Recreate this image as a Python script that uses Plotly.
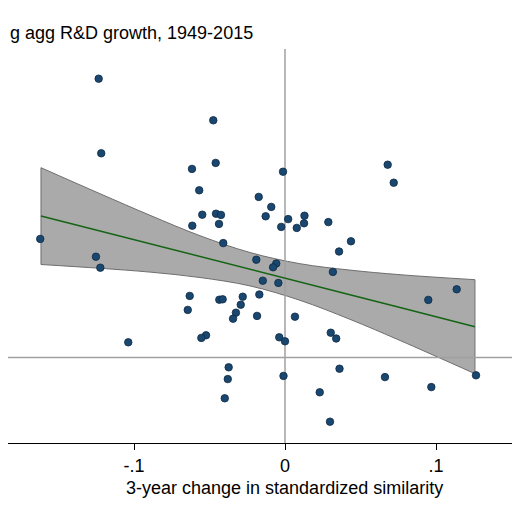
import plotly.graph_objects as go

# 3-year change in standardized similarity vs log agg R&D growth
sim_change = [
    -0.1234, -0.1217, -0.1621, -0.1252, -0.1223, -0.1038, -0.0631, -0.0644,
    -0.0475, -0.0459, -0.0616, -0.0568, -0.0013, -0.0174, -0.0091, -0.0548,
    -0.0457, -0.0424, -0.0128, -0.0614, -0.0437, 0.0021, 0.0129, -0.0025,
    0.0078, 0.0126, 0.0287, 0.0680, 0.0720, -0.0409, 0.0437, 0.0358,
    -0.0190, -0.0058, -0.0079, 0.0317, -0.0147, -0.0044, -0.0435, -0.0413,
    -0.0280, -0.0170, -0.0293, -0.0325, -0.0344, -0.0185, 0.0066, -0.0523,
    -0.0554, -0.0038, 0.0000, 0.0303, 0.0339, 0.1137, 0.0949, -0.0373,
    -0.0379, -0.0399, -0.0010, 0.0361, 0.0230, 0.0298, 0.0662, 0.0969,
    0.1265,
]
rd_growth = [
    0.1394, 0.1021, 0.0593, 0.0504, 0.0449, 0.0076, 0.0308, 0.0238,
    0.1186, 0.0973, 0.0943, 0.0836, 0.0929, 0.0803, 0.0753, 0.0714,
    0.0719, 0.0713, 0.0706, 0.0659, 0.0668, 0.0692, 0.0709, 0.0653,
    0.0648, 0.0671, 0.0677, 0.0964, 0.0874, 0.0572, 0.0581, 0.0530,
    0.0489, 0.0470, 0.0451, 0.0428, 0.0384, 0.0373, 0.0289, 0.0291,
    0.0304, 0.0315, 0.0264, 0.0224, 0.0194, 0.0208, 0.0204, 0.0111,
    0.0098, 0.0101, 0.0081, 0.0124, 0.0095, 0.0341, 0.0288, -0.0049,
    -0.0108, -0.0204, -0.0092, -0.0056, -0.0174, -0.0321, -0.0098, -0.0148,
    -0.0089,
]

# linear fit with 95% CI
fit_x = [-0.1616, -0.1225, -0.0894, -0.0563, -0.0232, 0.0099, 0.0430, 0.0762, 0.1258]
fit_y = [0.0708, 0.0632, 0.0569, 0.0505, 0.0441, 0.0377, 0.0314, 0.0250, 0.0154]
ci_upper = [0.0949, 0.0819, 0.0711, 0.0609, 0.0525, 0.0469, 0.0437, 0.0414, 0.0389]
ci_lower = [0.0465, 0.0446, 0.0427, 0.0400, 0.0358, 0.0286, 0.0191, 0.0085, -0.0081]

x_range = [-0.18344, 0.15563]
y_range = [-0.04275, 0.15425]

font = "Liberation Sans, Arial, Helvetica, sans-serif"
band_edge = "#6e6e6e"

fig = go.Figure()

fig.add_trace(go.Scatter(x=fit_x, y=ci_lower, mode="lines",
                         line=dict(color=band_edge, width=1, shape="spline"),
                         hoverinfo="skip"))
fig.add_trace(go.Scatter(x=fit_x, y=ci_upper, mode="lines", fill="tonexty",
                         fillcolor="#aaaaaa",
                         line=dict(color=band_edge, width=1, shape="spline"),
                         hoverinfo="skip"))
fig.add_trace(go.Scatter(x=[fit_x[0], fit_x[0], None, fit_x[-1], fit_x[-1]],
                         y=[ci_lower[0], ci_upper[0], None, ci_lower[-1], ci_upper[-1]],
                         mode="lines", line=dict(color=band_edge, width=1),
                         hoverinfo="skip"))

# reference lines at zero
fig.add_trace(go.Scatter(x=x_range, y=[0, 0], mode="lines",
                         line=dict(color="#a0a0a0", width=1.5), hoverinfo="skip"))
fig.add_trace(go.Scatter(x=[0, 0], y=y_range, mode="lines",
                         line=dict(color="#a0a0a0", width=1.5), hoverinfo="skip"))

fig.add_trace(go.Scatter(x=fit_x, y=fit_y, mode="lines",
                         line=dict(color="#146414", width=1.5)))

fig.add_trace(go.Scatter(x=sim_change, y=rd_growth, mode="markers",
                         marker=dict(size=7.5, color="#1a476f",
                                     line=dict(color="#0e2a44", width=0.8))))

fig.add_annotation(text="g agg R&D growth, 1949-2015", xref="paper", yref="paper",
                   x=0, y=1.0406, xanchor="left", yanchor="middle", showarrow=False,
                   font=dict(family=font, size=18, color="black"))
fig.add_annotation(text="3-year change in standardized similarity",
                   xref="paper", yref="paper", x=0.540, y=-0.114,
                   xanchor="center", yanchor="middle", showarrow=False,
                   font=dict(family=font, size=18, color="black"))

# page adds an 8px body margin, so the figure is 512 wide/high
fig.update_layout(
    width=512, height=512,
    margin=dict(l=0, r=0, t=41, b=77),
    paper_bgcolor="white", plot_bgcolor="white",
    showlegend=False,
    font=dict(family=font, size=18, color="black"),
    xaxis=dict(range=x_range, showgrid=False, zeroline=False,
               showline=True, linecolor="black", linewidth=1,
               ticks="outside", ticklen=6, tickcolor="black",
               tickvals=[-0.1, 0, 0.1], ticktext=["-.1", "0", ".1"],
               tickfont=dict(family=font, size=18, color="black")),
    yaxis=dict(range=y_range, showgrid=False, zeroline=False,
               showline=False, showticklabels=False, ticks=""),
)

fig.write_html("out.html")
